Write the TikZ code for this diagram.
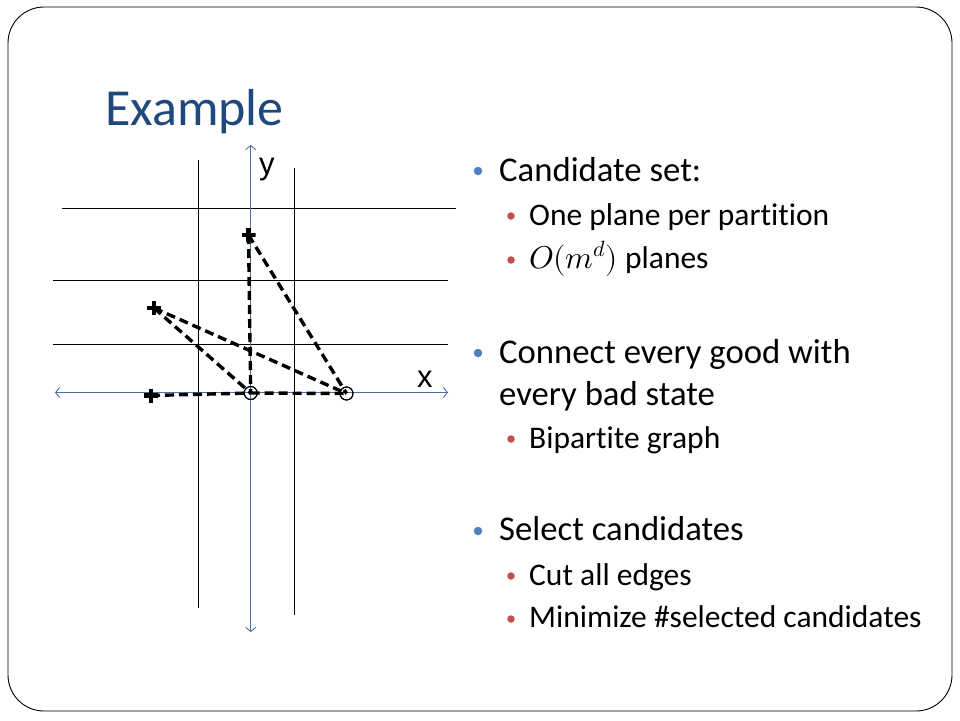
\documentclass[tikz,border=0pt]{standalone}
\usepackage{unicode-math}
\setmainfont{Carlito}[Ligatures=NoCommon]
\setmathfont{Latin Modern Math}
\newfontfamily\axisfont{Liberation Sans}
\usetikzlibrary{arrows.meta}
\definecolor{titleblue}{RGB}{31,73,125}
\definecolor{axisblue}{RGB}{79,110,160}
\definecolor{bulblue}{RGB}{79,129,189}
\definecolor{bulred}{RGB}{192,80,77}
\tikzset{
  grid line/.style={black, line width=1pt},
  axis line/.style={axisblue, line width=0.9pt, {Straight Barb[length=4pt,width=10pt]}-{Straight Barb[length=4pt,width=10pt]}},
  edge line/.style={black, line width=3.4pt, dash pattern=on 9pt off 5pt},
  plusmark/.style={inner sep=0pt, minimum size=14pt, path picture={\draw[black,line width=4.4pt] (path picture bounding box.west)--(path picture bounding box.east) (path picture bounding box.north)--(path picture bounding box.south);}},
  circmark/.style={circle, draw=black, line width=1pt, inner sep=0pt, minimum size=13pt},
  lvlone/.style={anchor=base west, inner sep=0pt, font=\fontsize{34.7}{40}\selectfont, text=black},
  lvltwo/.style={anchor=base west, inner sep=0pt, font=\fontsize{31.5}{36}\selectfont, text=black},
  bulone/.style={circle, fill=bulblue, inner sep=0pt, minimum size=8.5pt},
  bultwo/.style={circle, fill=bulred, inner sep=0pt, minimum size=7.5pt},
}
\begin{document}
\begin{tikzpicture}[x=1pt,y=-1pt]
\useasboundingbox (0,0) rectangle (960,720);
\fill[white] (0,0) rectangle (960,720);
\draw[black, line width=0.9pt, rounded corners=36pt] (8,7) rectangle (952,711);
% title
\node[anchor=base west, inner sep=0pt, text=titleblue, font=\fontsize{52}{60}\selectfont] (title) at (105,125) {Example};
% grid lines
\draw[grid line] (62,208) -- (456,208);
\draw[grid line] (53,280) -- (448,280);
\draw[grid line] (53,344) -- (448,344);
\draw[grid line] (198,160) -- (198,608);
\draw[grid line] (294,168) -- (294,615);
% axes
\draw[axis line] (55,392.5) -- (448,392.5);
\draw[axis line] (250.7,632) -- (250.7,145);
\node[anchor=base west, inner sep=0pt, font=\axisfont\fontsize{31}{34}\selectfont] (ylab) at (259,174) {y};
\node[anchor=base west, inner sep=0pt, font=\axisfont\fontsize{31}{34}\selectfont] (xlab) at (417,387) {x};
% points
\node[circmark] (o1) at (250.7,393) {};
\node[circmark] (o2) at (346.5,393.5) {};
\node[plusmark] (p1) at (248.5,235) {};
\node[plusmark] (p2) at (154,308) {};
\node[plusmark] (p3) at (151,395.5) {};
% edges
\draw[edge line] (p1.center) -- (o1.center);
\draw[edge line] (p1.center) -- (o2.center);
\draw[edge line] (p2.center) -- (o1.center);
\draw[edge line] (p2.center) -- (o2.center);
\draw[edge line] (p3.center) -- (o1.center);
\draw[edge line] (o1.center) -- (o2.center);
\node[circmark] at (o1) {};
\node[circmark] at (o2) {};
% bullets
\node[bulone] (b1) at (478,171) {};
\node[lvlone] (t1) at (499,181) {Candidate set:};
\node[bultwo] (b11) at (511,216) {};
\node[lvltwo] (t11) at (529,225) {One plane per partition};
\node[bultwo] (b12) at (511,260) {};
\node[lvltwo] (t12) at (529,268) {$O(m^{d})$ planes};
\node[bulone] (b2) at (478,353) {};
\node[lvlone] (t2) at (499,363) {Connect every good with};
\node[lvlone] (t2b) at (499,405) {every bad state};
\node[bultwo] (b21) at (511,439) {};
\node[lvltwo] (t21) at (529,448) {Bipartite graph};
\node[bulone] (b3) at (478,531) {};
\node[lvlone] (t3) at (499,540) {Select candidates};
\node[bultwo] (b31) at (511,576) {};
\node[lvltwo] (t31) at (529,585) {Cut all edges};
\node[bultwo] (b32) at (511,619) {};
\node[lvltwo] (t32) at (529,627) {Minimize \#selected candidates};
\end{tikzpicture}
\end{document}
